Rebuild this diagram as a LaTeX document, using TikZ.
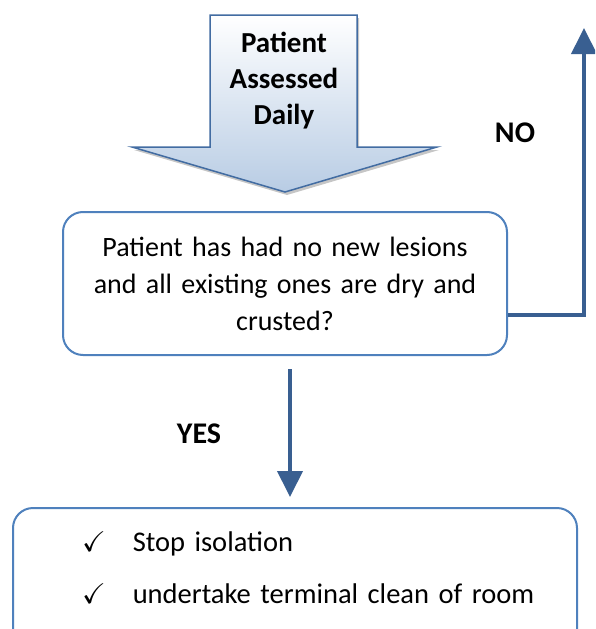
\documentclass[tikz,border=0pt]{standalone}
\usepackage{amssymb}
\usepackage{fontspec}
\setmainfont{Carlito}
\usepackage{tikz}
\usetikzlibrary{arrows.meta,shadows,positioning}
\definecolor{boxblue}{RGB}{79,129,189}
\definecolor{linkblue}{RGB}{57,95,145}
\definecolor{edgeblue}{RGB}{66,108,162}
\definecolor{arrowfill}{RGB}{184,204,228}

\tikzset{
  qbox/.style={draw=boxblue, line width=2pt, rounded corners=20pt, fill=white,
    align=center, font=\fontsize{28}{37}\selectfont},
  actbox/.style={draw=boxblue, line width=2pt, rounded corners=20pt, fill=white,
    inner sep=0pt, font=\fontsize{28.5}{52}\selectfont},
  link/.style={draw=linkblue, line width=4pt, line join=miter,
    -{Triangle[width=25pt,length=26pt]}},
  lbl/.style={font=\bfseries\fontsize{30}{32}\selectfont}
}

\begin{document}
\begin{tikzpicture}[x=1pt, y=-1pt]
  \useasboundingbox (0,0) rectangle (595,629);
  \clip (0,0) rectangle (595,629);

  % Big arrow at the top
  \path[draw=edgeblue, line width=1.5pt, top color=white, bottom color=arrowfill,
    drop shadow={shadow xshift=2pt, shadow yshift=-3pt, opacity=.45}]
    (210,15) -- (357,15) -- (357,147) -- (437,147) -- (285,192)
    -- (132,147) -- (210,147) -- cycle;
  \node[font=\bfseries\fontsize{29}{36}\selectfont, align=center] (assess) at (284,81)
    {Patient\\Assessed\\Daily};

  % Question
  \node[qbox, minimum width=444pt, minimum height=143pt, text width=430pt] (decide) at (285,283.5)
    {Patient has had no new lesions\\and all existing ones are dry and\\crusted?};

  % Actions
  \node[actbox, anchor=north west, text width=564pt, text height=43pt, text depth=110pt]
    (act) at (12,507)
    {\begin{tabular}[t]{@{\hspace*{69pt}}l@{\hspace{27pt}}l@{}}
       $\checkmark$ & Stop isolation\\
       $\checkmark$ & undertake terminal clean of room
     \end{tabular}};

  % Connectors
  \coordinate (noturn) at (584,315);
  \coordinate (noend) at (584,28);
  \draw[link] (decide.east |- noturn) -- (noturn) -- (noend);
  \draw[link, shorten <=13pt, shorten >=10pt] ([xshift=5pt]decide.south) -- ([xshift=5pt]decide.south |- act.north);

  % Labels
  \node[lbl] (nolbl) at (515,133) {NO};
  \node[lbl] (yeslbl) at (199,434) {YES};
\end{tikzpicture}
\end{document}
